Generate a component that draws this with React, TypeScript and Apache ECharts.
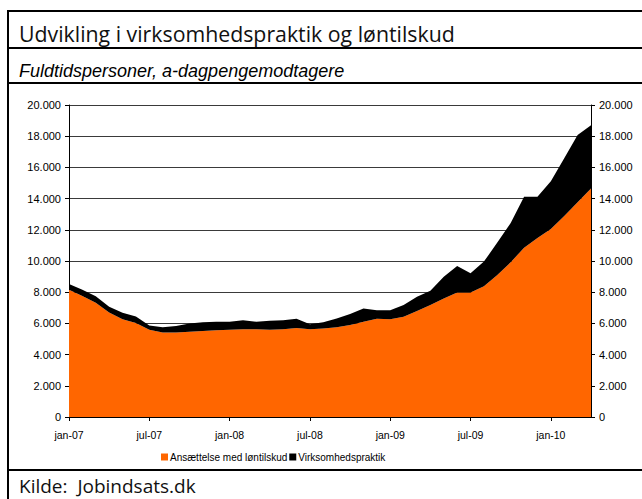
import React, { useEffect, useRef } from "react";
import * as echarts from "echarts";

const months = ["jan","feb","mar","apr","maj","jun","jul","aug","sep","okt","nov","dec"];
const categories: string[] = [];
for (let y = 7; y <= 10; y++) {
  for (let m = 0; m < 12; m++) {
    if (y === 10 && m > 3) break;
    categories.push(`${months[m]}-${String(y).padStart(2, "0")}`);
  }
}

const loentilskud = [
  8150, 7750, 7330, 6700, 6270, 6020, 5600, 5420, 5420, 5470,
  5520, 5560, 5590, 5630, 5620, 5590, 5620, 5700, 5630, 5680,
  5760, 5900, 6100, 6300, 6270, 6420, 6800, 7180, 7600, 7980,
  7980, 8380, 9100, 9920, 10850, 11480, 12050, 12880, 13760, 14650,
];

const virksomhedspraktik = [
  380, 400, 410, 370, 420, 430, 270, 330, 420, 530,
  550, 540, 510, 570, 490, 580, 580, 600, 320, 400,
  560, 700, 850, 540, 580, 760, 910, 920, 1390, 1700,
  1230, 1580, 2080, 2510, 3270, 2640, 3060, 3700, 4320, 4050,
];

const seriesNames = ["Ansættelse med løntilskud", "Virksomhedspraktik"];
const title = "Udvikling i virksomhedspraktik og løntilskud";
const subtitle = "Fuldtidspersoner, a-dagpengemodtagere";
const source = "Kilde:  Jobindsats.dk";

const fmt = (v: number) => (v === 0 ? "0" : v.toLocaleString("de-DE"));

export default function App() {
  const ref = useRef<HTMLDivElement>(null);
  useEffect(() => {
    if (!ref.current) return;
    const chart = echarts.init(ref.current, null, { renderer: "svg" });
    const axisFont = { fontFamily: "Liberation Sans", fontSize: 11, color: "#000" };
    const yAxisBase = {
      type: "value" as const,
      min: 0,
      max: 20000,
      interval: 2000,
      axisLine: { show: true, lineStyle: { color: "#000", width: 1 } },
      axisTick: { show: true, length: 4, lineStyle: { color: "#000" } },
      axisLabel: { ...axisFont, margin: 8, formatter: fmt },
    };
    chart.setOption({
      animation: false,
      backgroundColor: "#fff",
      grid: { left: 69, right: 51, top: 105, bottom: 82, containLabel: false },
      legend: {
        data: seriesNames,
        top: 447,
        left: 156,
        itemWidth: 7,
        itemHeight: 7,
        itemGap: 2,
        icon: "rect",
        textStyle: { fontFamily: "Liberation Sans", fontSize: 10, color: "#000", padding: [0, 0, 0, -3] },
      },
      xAxis: {
        type: "category",
        data: categories,
        boundaryGap: false,
        axisLine: { lineStyle: { color: "#000" } },
        axisTick: { show: true, interval: 5, length: 4, lineStyle: { color: "#000" } },
        axisLabel: { ...axisFont, interval: 5, margin: 12, fontSize: 10.5 },
        splitLine: { show: false },
      },
      yAxis: [
        {
          ...yAxisBase,
          position: "left",
          splitLine: { show: true, lineStyle: { color: "#3a3a3a", width: 1 } },
        },
        {
          ...yAxisBase,
          position: "right",
          splitLine: { show: false },
        },
      ],
      series: [
        {
          name: seriesNames[0],
          type: "line",
          stack: "total",
          data: loentilskud,
          showSymbol: false,
          lineStyle: { width: 0 },
          itemStyle: { color: "#FF6600" },
          areaStyle: { color: "#FF6600", opacity: 1 },
        },
        {
          name: seriesNames[1],
          type: "line",
          stack: "total",
          data: virksomhedspraktik,
          showSymbol: false,
          lineStyle: { width: 0 },
          itemStyle: { color: "#000" },
          areaStyle: { color: "#000", opacity: 1 },
        },
      ],
      graphic: [
        { type: "rect", shape: { x: 7, y: 10, width: 2, height: 489 }, style: { fill: "#000" } },
        { type: "rect", shape: { x: 7, y: 10, width: 635, height: 2 }, style: { fill: "#000" } },
        { type: "rect", shape: { x: 7, y: 47, width: 635, height: 2 }, style: { fill: "#000" } },
        { type: "rect", shape: { x: 7, y: 82, width: 635, height: 2 }, style: { fill: "#000" } },
        { type: "rect", shape: { x: 7, y: 469, width: 635, height: 2 }, style: { fill: "#000" } },
        {
          type: "text",
          x: 19,
          y: 33,
          style: { text: title, fontFamily: "Open Sans", fontSize: 21.3, fill: "#111", verticalAlign: "middle", align: "left" },
        },
        {
          type: "text",
          x: 19,
          y: 71,
          style: { text: subtitle, fontFamily: "Liberation Sans", fontStyle: "italic", fontSize: 18, fill: "#000", verticalAlign: "middle", align: "left" },
        },
        {
          type: "text",
          x: 19,
          y: 486,
          style: { text: source, fontFamily: "Open Sans", fontSize: 19, fill: "#111", verticalAlign: "middle", align: "left" },
        },
      ],
    });
    return () => chart.dispose();
  }, []);
  return (
    <div
      ref={ref}
      style={{ position: "absolute", left: 0, top: 0, width: 642, height: 499, background: "#fff" }}
    />
  );
}
